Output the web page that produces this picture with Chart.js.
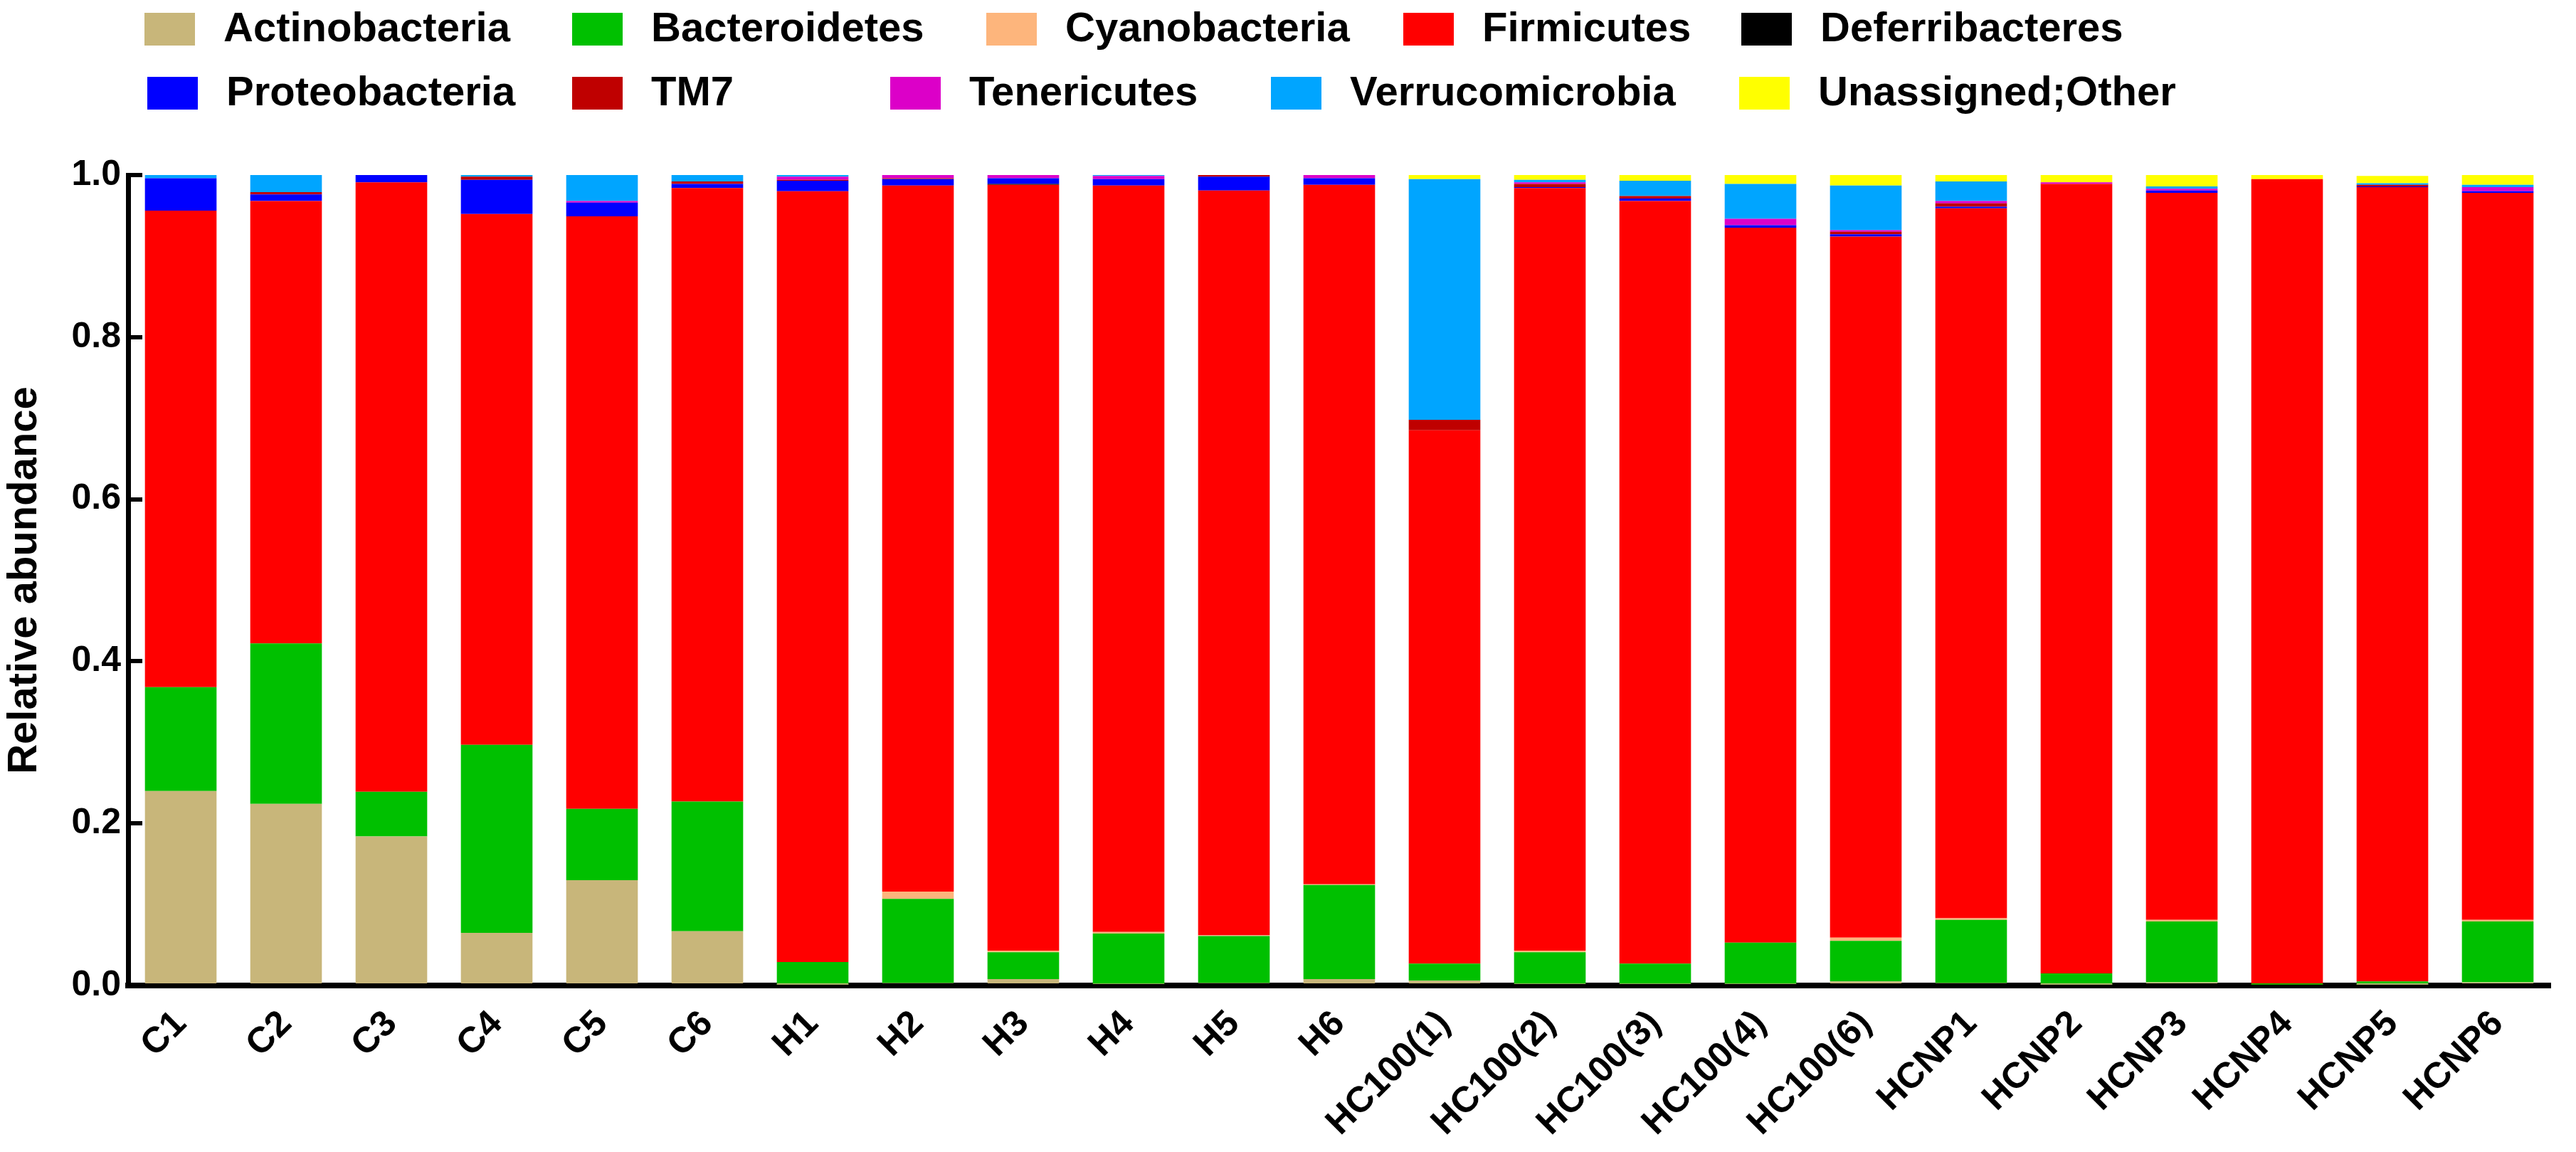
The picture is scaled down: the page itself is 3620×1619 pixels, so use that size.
<!DOCTYPE html>
<html>
<head>
<meta charset="utf-8">
<title>Relative abundance</title>
<script src="https://cdn.jsdelivr.net/npm/chart.js@4.4.1/dist/chart.umd.min.js"></script>
<style>
  html, body { margin: 0; padding: 0; background: #fff; }
  #wrap { width: 3620px; height: 1619px; }
</style>
</head>
<body>
<div id="wrap"><canvas id="chart"></canvas></div>
<script>
// samples on the x axis
const samples = ['C1', 'C2', 'C3', 'C4', 'C5', 'C6',
  'H1', 'H2', 'H3', 'H4', 'H5', 'H6',
  'HC100(1)', 'HC100(2)', 'HC100(3)', 'HC100(4)', 'HC100(6)',
  'HCNP1', 'HCNP2', 'HCNP3', 'HCNP4', 'HCNP5', 'HCNP6'];

// relative abundance per phylum
const actinobacteria  = [0.240, 0.224, 0.184, 0.065, 0.130, 0.067, 0.001, 0.003, 0.008, 0.002, 0.003, 0.008, 0.006, 0.002, 0.002, 0.002, 0.005, 0.003, 0.001, 0.004, 0.000, 0.001, 0.004];
const bacteroidetes   = [0.128, 0.198, 0.055, 0.232, 0.088, 0.160, 0.028, 0.104, 0.033, 0.062, 0.058, 0.116, 0.021, 0.039, 0.025, 0.051, 0.050, 0.078, 0.014, 0.075, 0.001, 0.004, 0.075];
const cyanobacteria   = [0.000, 0.000, 0.000, 0.000, 0.000, 0.000, 0.000, 0.009, 0.002, 0.002, 0.001, 0.001, 0.000, 0.002, 0.000, 0.000, 0.004, 0.002, 0.000, 0.002, 0.000, 0.000, 0.002];
const firmicutes      = [0.588, 0.546, 0.752, 0.655, 0.731, 0.757, 0.951, 0.871, 0.945, 0.921, 0.919, 0.863, 0.658, 0.941, 0.941, 0.882, 0.865, 0.876, 0.974, 0.897, 0.994, 0.980, 0.897];
const deferribacteres = [0.000, 0.000, 0.000, 0.000, 0.000, 0.000, 0.000, 0.000, 0.001, 0.000, 0.000, 0.000, 0.000, 0.000, 0.000, 0.000, 0.000, 0.000, 0.000, 0.000, 0.000, 0.000, 0.000];
const proteobacteria  = [0.040, 0.008, 0.009, 0.042, 0.017, 0.005, 0.013, 0.008, 0.007, 0.008, 0.017, 0.008, 0.000, 0.001, 0.003, 0.003, 0.003, 0.002, 0.000, 0.003, 0.000, 0.001, 0.002];
const tm7             = [0.000, 0.003, 0.000, 0.004, 0.000, 0.003, 0.001, 0.001, 0.000, 0.000, 0.002, 0.000, 0.013, 0.004, 0.003, 0.000, 0.003, 0.004, 0.000, 0.000, 0.000, 0.002, 0.000];
const tenericutes     = [0.000, 0.000, 0.000, 0.000, 0.002, 0.000, 0.004, 0.004, 0.004, 0.004, 0.000, 0.004, 0.000, 0.002, 0.000, 0.008, 0.002, 0.003, 0.002, 0.002, 0.000, 0.000, 0.005];
const verrucomicrobia = [0.004, 0.021, 0.000, 0.002, 0.032, 0.008, 0.002, 0.000, 0.000, 0.001, 0.000, 0.000, 0.297, 0.003, 0.019, 0.043, 0.055, 0.024, 0.000, 0.003, 0.000, 0.002, 0.003];
const unassigned      = [0.000, 0.000, 0.000, 0.000, 0.000, 0.000, 0.000, 0.000, 0.000, 0.000, 0.000, 0.000, 0.005, 0.007, 0.007, 0.011, 0.013, 0.009, 0.009, 0.014, 0.005, 0.009, 0.012];

const phyla = ['Actinobacteria', 'Bacteroidetes', 'Cyanobacteria', 'Firmicutes', 'Deferribacteres',
  'Proteobacteria', 'TM7', 'Tenericutes', 'Verrucomicrobia', 'Unassigned;Other'];
const series = [actinobacteria, bacteroidetes, cyanobacteria, firmicutes, deferribacteres,
  proteobacteria, tm7, tenericutes, verrucomicrobia, unassigned];
const colors = ['#C8B67A', '#00C000', '#FDB57C', '#FF0000', '#000000',
  '#0000FF', '#BF0000', '#DC00C8', '#00A5FF', '#FFFF00'];

const yTicks = [0, 0.2, 0.4, 0.6, 0.8, 1.0];

const FONT = '"Liberation Sans", Arial, sans-serif';

// legend drawn by hand: two rows of five, like the original figure
const legendSpots = [
  [203, 18], [804, 18], [1386, 18], [1972, 18], [2447, 18],
  [207, 108], [804, 108], [1251, 108], [1786, 108], [2444, 108]
];

const legendPlugin = {
  id: 'twoRowLegend',
  afterDraw(chart) {
    const ctx = chart.ctx;
    ctx.save();
    ctx.font = 'bold 58px ' + FONT;
    ctx.textBaseline = 'middle';
    ctx.textAlign = 'left';
    chart.data.datasets.forEach((ds, i) => {
      const x = legendSpots[i][0];
      const y = legendSpots[i][1];
      ctx.fillStyle = ds.backgroundColor;
      ctx.fillRect(x, y, 71, 46);
      ctx.fillStyle = '#000';
      ctx.fillText(ds.label, x + 111, y + 24);
    });
    ctx.restore();
  }
};

new Chart(document.getElementById('chart'), {
  type: 'bar',
  data: {
    labels: samples,
    datasets: series.map((values, i) => ({
      label: phyla[i],
      data: values,
      backgroundColor: colors[i],
      borderWidth: 0,
      barPercentage: 0.68,
      categoryPercentage: 1.0
    }))
  },
  options: {
    responsive: true,
    maintainAspectRatio: false,
    devicePixelRatio: 1,
    animation: false,
    layout: { padding: { top: 246, right: 36, left: 0, bottom: 0 } },
    plugins: {
      legend: { display: false },
      tooltip: { enabled: false }
    },
    scales: {
      x: {
        stacked: true,
        grid: { display: false, drawTicks: false },
        border: { display: true, color: '#000', width: 8 },
        ticks: {
          color: '#000',
          font: { family: FONT, size: 51, weight: 'bold' },
          minRotation: 45,
          maxRotation: 45,
          autoSkip: false,
          padding: 24
        },
        afterFit(scale) { scale.height = 234; }
      },
      y: {
        stacked: true,
        min: 0,
        max: 1,
        afterBuildTicks(scale) { scale.ticks = yTicks.map(v => ({ value: v })); },
        grid: { display: true, drawOnChartArea: false, drawTicks: true, tickLength: -20, color: '#000', lineWidth: 6 },
        border: { display: true, color: '#000', width: 7 },
        ticks: {
          color: '#000',
          font: { family: FONT, size: 50, weight: 'bold' },
          padding: 30,
          callback: v => Number(v).toFixed(1)
        },
        title: {
          display: true,
          text: 'Relative abundance',
          color: '#000',
          font: { family: FONT, size: 58, weight: 'bold' },
          padding: { top: 0, bottom: 0 }
        },
        afterFit(scale) { scale.width = 180; }
      }
    }
  },
  plugins: [legendPlugin]
});
</script>
</body>
</html>
